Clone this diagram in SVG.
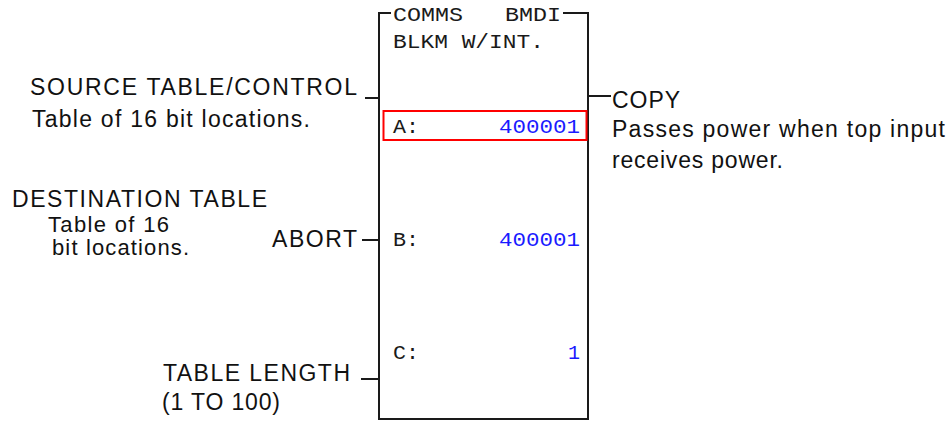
<svg xmlns="http://www.w3.org/2000/svg" width="952" height="425" viewBox="0 0 952 425">
<style>
.lbl{font-family:"Liberation Sans",Arial,sans-serif;font-size:23px;fill:#111}
.sm{font-size:22px}
.mono{font-family:"Liberation Mono","Courier New",monospace;font-size:20px;fill:#1a1a1a}
.val{font-family:"Liberation Mono","Courier New",monospace;font-size:20px;fill:#1a1aff}
.wire{stroke:#1a1a1a;stroke-width:2;fill:none}
</style>
<rect width="952" height="425" fill="#fff"/>
<g id="block">
<path class="wire" d="M391,13 H379 V419 H588 V13 H563"/>
<text class="mono" x="393" y="21" textLength="168" lengthAdjust="spacingAndGlyphs" xml:space="preserve">COMMS   BMDI</text>
<text class="mono" x="393" y="48" textLength="151" lengthAdjust="spacingAndGlyphs">BLKM W/INT.</text>
<rect x="383.5" y="111" width="203" height="29" fill="none" stroke="#ff0000" stroke-width="2"/>
<text class="mono" x="393" y="133" textLength="26" lengthAdjust="spacingAndGlyphs">A:</text>
<text class="val" x="580" y="133" text-anchor="end" textLength="81" lengthAdjust="spacingAndGlyphs">400001</text>
<text class="mono" x="393" y="246" textLength="26" lengthAdjust="spacingAndGlyphs">B:</text>
<text class="val" x="580" y="246" text-anchor="end" textLength="81" lengthAdjust="spacingAndGlyphs">400001</text>
<text class="mono" x="393" y="359" textLength="26" lengthAdjust="spacingAndGlyphs">C:</text>
<text class="val" x="580" y="359" text-anchor="end">1</text>
</g>
<g id="connectors">
<line class="wire" x1="365" y1="98" x2="379" y2="98"/>
<line class="wire" x1="362" y1="240" x2="379" y2="240"/>
<line class="wire" x1="361" y1="379" x2="379" y2="379"/>
<line class="wire" x1="588" y1="96" x2="611" y2="96"/>
</g>
<g id="source">
<text class="lbl" x="30" y="95" textLength="327">SOURCE TABLE/CONTROL</text>
<text class="lbl" x="32" y="127" textLength="278">Table of 16 bit locations.</text>
</g>
<g id="destination">
<text class="lbl" x="12" y="207" textLength="255">DESTINATION TABLE</text>
<text class="lbl sm" x="48" y="232" textLength="121">Table of 16</text>
<text class="lbl sm" x="52" y="255" textLength="137">bit locations.</text>
</g>
<g id="abort">
<text class="lbl" x="272" y="247" textLength="85">ABORT</text>
</g>
<g id="length">
<text class="lbl" x="163" y="381" textLength="187">TABLE LENGTH</text>
<text class="lbl" x="162" y="410" textLength="118">(1 TO 100)</text>
</g>
<g id="copy">
<text class="lbl" x="612" y="108" textLength="68">COPY</text>
<text class="lbl" x="612" y="137" textLength="333">Passes power when top input</text>
<text class="lbl" x="612" y="168" textLength="171">receives power.</text>
</g>
</svg>
